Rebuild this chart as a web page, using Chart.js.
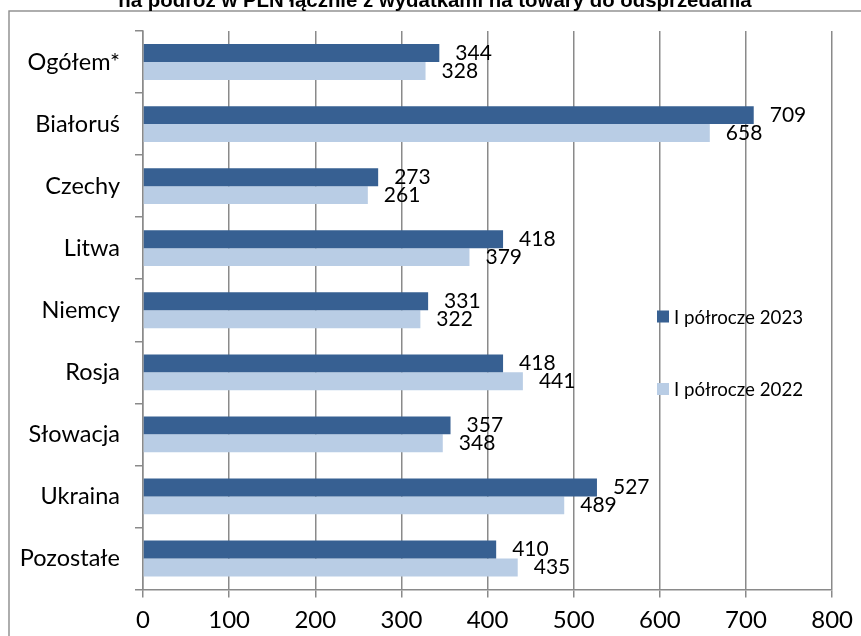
<!DOCTYPE html>
<html>
<head>
<meta charset="utf-8">
<script src="https://cdn.jsdelivr.net/npm/chart.js@4"></script>
<style>
    body { margin: 0; background: #fff; }
    canvas { display: block; }
</style>
</head>
<body>
<canvas id="spendChart" width="861" height="636"></canvas>
<script>
const categories = ["Ogółem*", "Białoruś", "Czechy", "Litwa", "Niemcy", "Rosja", "Słowacja", "Ukraina", "Pozostałe"];
const seriesNames = ["I półrocze 2023", "I półrocze 2022"];
const values2023 = [344, 709, 273, 418, 331, 418, 357, 527, 410];
const values2022 = [328, 658, 261, 379, 322, 441, 348, 489, 435];
const xTicks = [0, 100, 200, 300, 400, 500, 600, 700, 800];
const titleText = "na podróż w PLN łącznie z wydatkami na towary do odsprzedania";

const DARK = "#376092";
const LIGHT = "#b9cde5";
const GRID = "#8a8a8a";
const FONT = "Lato, 'Noto Sans', sans-serif";

// frame + cut-off title at the top
const framePlugin = {
    id: "frame",
    beforeDraw(chart) {
        const ctx = chart.ctx;
        ctx.save();
        ctx.fillStyle = "#fff";
        ctx.fillRect(0, 0, chart.width, chart.height);
        ctx.strokeStyle = "#8c8c8c";
        ctx.lineWidth = 1.4;
        ctx.strokeRect(9, 11, chart.width + 50, chart.height + 50);
        ctx.fillStyle = "#000";
        ctx.font = "bold 20.4px 'Liberation Sans', Arial, sans-serif";
        ctx.textAlign = "center";
        ctx.textBaseline = "alphabetic";
        ctx.fillText(titleText, 435, 6.5);
        ctx.restore();
    }
};

// value labels next to bar ends
const valueLabels = {
    id: "valueLabels",
    afterDatasetsDraw(chart) {
        const ctx = chart.ctx;
        ctx.save();
        ctx.font = "21px " + FONT;
        ctx.fillStyle = "#000";
        ctx.textAlign = "left";
        ctx.textBaseline = "middle";
        chart.data.datasets.forEach((ds, i) => {
            chart.getDatasetMeta(i).data.forEach((bar, j) => {
                ctx.fillText(String(ds.data[j]), bar.x + 16, bar.y);
            });
        });
        ctx.restore();
    }
};

// legend sits inside the plot area on the right
const innerLegend = {
    id: "innerLegend",
    afterDraw(chart) {
        const ctx = chart.ctx;
        const rows = [316.5, 389];
        ctx.save();
        ctx.font = "18.7px " + FONT;
        ctx.textBaseline = "middle";
        ctx.textAlign = "left";
        chart.data.datasets.forEach((ds, i) => {
            ctx.fillStyle = ds.backgroundColor;
            ctx.fillRect(657, rows[i] - 6, 12, 12);
            ctx.fillStyle = "#000";
            ctx.fillText(ds.label, 674, rows[i] + 1);
        });
        ctx.restore();
    }
};

new Chart(document.getElementById("spendChart"), {
    type: "bar",
    data: {
        labels: categories,
        datasets: [
            { label: seriesNames[0], data: values2023, backgroundColor: DARK },
            { label: seriesNames[1], data: values2022, backgroundColor: LIGHT }
        ]
    },
    options: {
        indexAxis: "y",
        responsive: false,
        animation: false,
        devicePixelRatio: 1,
        layout: { padding: { top: 31, right: 25, left: 0, bottom: 0 } },
        datasets: { bar: { categoryPercentage: 0.577, barPercentage: 1.0 } },
        scales: {
            x: {
                min: 0,
                max: 800,
                afterBuildTicks: scale => { scale.ticks = xTicks.map(v => ({ value: v })); },
                afterFit: scale => { scale.height = 46.5; },
                grid: { color: GRID, lineWidth: 1.5, tickLength: 8, tickColor: GRID },
                border: { color: GRID, width: 1.5 },
                ticks: { color: "#000", font: { family: FONT, size: 24 }, padding: 8, maxRotation: 0 }
            },
            y: {
                afterFit: scale => { scale.width = 143; },
                grid: { drawOnChartArea: false, offset: true, color: GRID, lineWidth: 1.5, tickLength: 8 },
                border: { color: GRID, width: 1.5 },
                ticks: { color: "#000", font: { family: FONT, size: 23.5 }, padding: 15 }
            }
        },
        plugins: {
            legend: { display: false },
            title: { display: false },
            tooltip: { enabled: false }
        }
    },
    plugins: [framePlugin, valueLabels, innerLegend]
});
</script>
</body>
</html>
